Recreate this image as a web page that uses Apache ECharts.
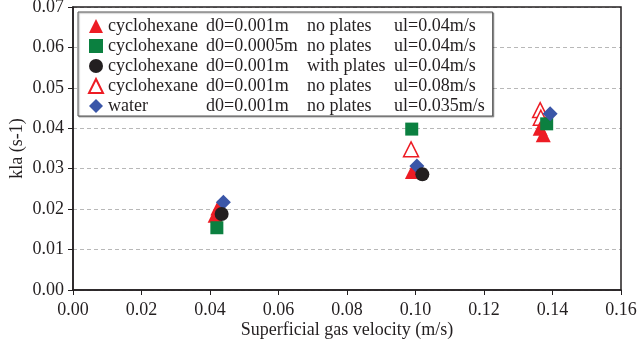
<!DOCTYPE html>
<html><head><meta charset="utf-8">
<script src="https://cdn.jsdelivr.net/npm/echarts@6/dist/echarts.min.js"></script>
<style>html,body{margin:0;padding:0;background:#fff}#c{width:638px;height:350px}</style>
</head><body><div id="c"></div>
<script>
// Legend columns
const legName = ['cyclohexane', 'cyclohexane', 'cyclohexane', 'cyclohexane', 'water'];
const legD0 = ['d0=0.001m', 'd0=0.0005m', 'd0=0.001m', 'd0=0.001m', 'd0=0.001m'];
const legPlates = ['no plates', 'no plates', 'with plates', 'no plates', 'no plates'];
const legUl = ['ul=0.04m/s', 'ul=0.04m/s', 'ul=0.04m/s', 'ul=0.08m/s', 'ul=0.035m/s'];

// Data [superficial gas velocity, kla]
const redFilled = [[0.0415, 0.0185], [0.0423, 0.0203], [0.0991, 0.0293], [0.1373, 0.0384], [0.1364, 0.0400]];
const greenSquare = [[0.0420, 0.0154], [0.0989, 0.0398], [0.1383, 0.0411]];
const blackCircle = [[0.0434, 0.0188], [0.1020, 0.0286]];
const redHollow = [[0.0987, 0.0348], [0.1364, 0.0445], [0.1366, 0.0426]];
const blueDiamond = [[0.0439, 0.0217], [0.1004, 0.0307], [0.1393, 0.0436]];

const xTicks = {min: 0, max: 0.16, interval: 0.02};
const yTicks = {min: 0, max: 0.07, interval: 0.01};

const font = '"Liberation Serif", "DejaVu Serif", serif';
const names = legName.map((n, i) => [n, legD0[i], legPlates[i], legUl[i]].join('|'));
const FS = 18;
const txt = {fontFamily: font, fontSize: FS, color: '#231f20', lineHeight: 18};

const chart = echarts.init(document.getElementById('c'), null, {renderer: 'canvas'});
const mk = (i, data, symbol, size, style, z) => ({
  name: names[i], type: 'scatter', data, symbol, symbolSize: size,
  itemStyle: Object.assign({opacity: 1}, style), z: z
});
chart.setOption({
  animation: false,
  grid: {left: 73, right: 17, top: 7, bottom: 60, show: false, containLabel: false, outerBoundsMode: 'none'},
  textStyle: {fontFamily: font},
  legend: {
    orient: 'vertical', left: 78, top: 12,
    padding: [5, 8, 1, 10], itemGap: 2, itemWidth: 14, itemHeight: 14,
    backgroundColor: '#fff', borderColor: '#555', borderWidth: 1,
    shadowColor: 'rgba(0,0,0,0.3)', shadowBlur: 1, shadowOffsetX: 1, shadowOffsetY: 1,
    data: names,
    formatter: function (n) {
      const p = n.split('|');
      return '{a|' + p[0] + '}{b|' + p[1] + '}{c|' + p[2] + '}{d|' + p[3] + '}';
    },
    textStyle: Object.assign({}, txt, {
      rich: {
        a: Object.assign({width: 98}, txt),
        b: Object.assign({width: 101}, txt),
        c: Object.assign({width: 87}, txt),
        d: Object.assign({}, txt)
      }
    })
  },
  xAxis: {
    type: 'value', min: xTicks.min, max: xTicks.max, interval: xTicks.interval,
    name: 'Superficial gas velocity (m/s)', nameLocation: 'middle', nameGap: 31,
    nameMoveOverlap: false,
    nameTextStyle: {fontFamily: font, fontSize: FS, color: '#231f20'},
    axisLine: {show: true, lineStyle: {color: '#231f20', width: 1.5}},
    axisTick: {show: true, inside: false, length: 5, lineStyle: {color: '#231f20'}},
    axisLabel: {fontFamily: font, fontSize: FS, color: '#231f20', margin: 11,
      formatter: v => v.toFixed(2)},
    splitLine: {show: false}
  },
  yAxis: {
    type: 'value', min: yTicks.min, max: yTicks.max, interval: yTicks.interval,
    name: 'kla (s-1)', nameLocation: 'middle', nameGap: 47, nameRotate: 90,
    nameMoveOverlap: false,
    nameTextStyle: {fontFamily: font, fontSize: FS, color: '#231f20'},
    axisLine: {show: true, lineStyle: {color: '#231f20', width: 1.5}},
    axisTick: {show: true, inside: false, length: 5, lineStyle: {color: '#231f20'}},
    axisLabel: {fontFamily: font, fontSize: FS, color: '#231f20', margin: 9,
      formatter: v => v.toFixed(2)},
    splitLine: {show: true, lineStyle: {color: '#b8b8b8', type: [4, 3], width: 1}}
  },
  graphic: [],
  series: [
    mk(0, redFilled, 'triangle', 15, {color: '#ed1c24'}, 3),
    mk(1, greenSquare, 'rect', 13, {color: '#0b8040'}, 4),
    mk(2, blackCircle, 'circle', 14, {color: '#231f20'}, 6),
    mk(3, redHollow, 'triangle', 15, {color: '#fff', borderColor: '#ed1c24', borderWidth: 1.5}, 2),
    mk(4, blueDiamond, 'diamond', 15, {color: '#3a56a8'}, 5)
  ]
});
// box on top and right
const g = chart.getModel().getComponent('grid').coordinateSystem.getRect();
chart.setOption({graphic: [{type: 'rect', shape: {x: g.x, y: g.y, width: g.width, height: g.height},
  style: {fill: 'none', stroke: '#231f20', lineWidth: 1.5}, z: 1, silent: true}]});
</script></body></html>
